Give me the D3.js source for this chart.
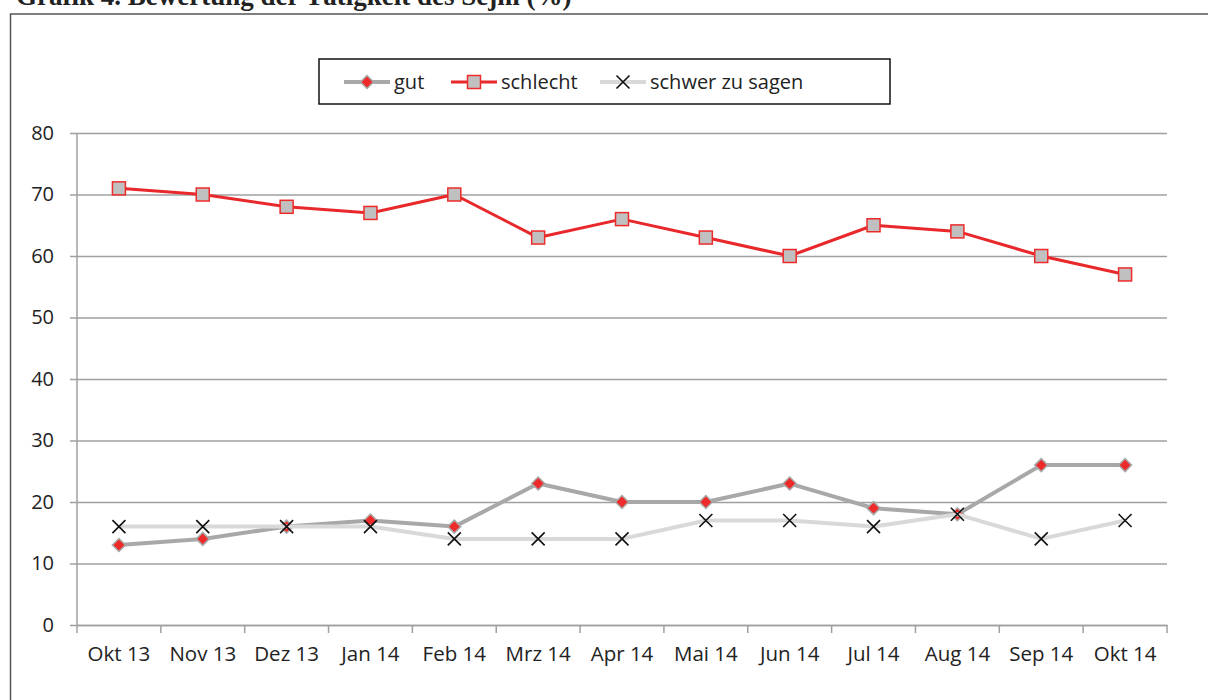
<!DOCTYPE html>
<html>
<head>
<meta charset="utf-8">
<script src="https://cdn.jsdelivr.net/npm/d3@7"></script>
<style>
  body { margin: 0; background: #fff; }
  svg { display: block; }
</style>
</head>
<body>
<svg id="chart"></svg>
<script>
// Daten
const months = ['Okt 13', 'Nov 13', 'Dez 13', 'Jan 14', 'Feb 14', 'Mrz 14', 'Apr 14',
  'Mai 14', 'Jun 14', 'Jul 14', 'Aug 14', 'Sep 14', 'Okt 14'];
const gut = [13, 14, 16, 17, 16, 23, 20, 20, 23, 19, 18, 26, 26];
const schlecht = [71, 70, 68, 67, 70, 63, 66, 63, 60, 65, 64, 60, 57];
const schwer = [16, 16, 16, 16, 14, 14, 14, 17, 17, 16, 18, 14, 17];
const yTicks = [0, 10, 20, 30, 40, 50, 60, 70, 80];

const width = 1208, height = 700;
const font = '"Open Sans", "Noto Sans", sans-serif';

const svg = d3.select('#chart')
  .attr('width', width)
  .attr('height', height);

// Titel (oben abgeschnitten, wie im Original)
svg.append('text')
  .attr('x', 16)
  .attr('y', 5)
  .attr('font-family', '"Liberation Serif", serif')
  .attr('font-weight', 'bold')
  .attr('font-size', 27)
  .attr('fill', '#222')
  .text('Grafik 4. Bewertung der Tätigkeit des Sejm (%)');

// Rahmen
svg.append('rect')
  .attr('x', 10.5)
  .attr('y', 14)
  .attr('width', 1220)
  .attr('height', 720)
  .attr('fill', 'none')
  .attr('stroke', '#555')
  .attr('stroke-width', 1.5);

const x = d3.scaleBand().domain(months).range([77, 1167]);
const y = d3.scaleLinear().domain([0, 80]).range([625, 133]);
const cx = (i) => x(months[i]) + x.bandwidth() / 2;

// Gitterlinien + Y-Achse
const yAxis = svg.append('g')
  .attr('transform', 'translate(77,0)')
  .call(d3.axisLeft(y).tickValues(yTicks).tickSize(-1090).tickPadding(23).tickSizeOuter(0));
yAxis.select('.domain').remove();
yAxis.selectAll('.tick line')
  .attr('stroke', '#a0a0a0')
  .attr('stroke-width', 1.5)
  .attr('x1', -7);
yAxis.selectAll('.tick text')
  .attr('font-family', font)
  .attr('font-size', 20)
  .attr('fill', '#222');

svg.append('line')
  .attr('x1', 77).attr('x2', 77)
  .attr('y1', y(80)).attr('y2', y(0))
  .attr('stroke', '#a0a0a0')
  .attr('stroke-width', 1.5);

// X-Achse
const xAxis = svg.append('g')
  .attr('transform', `translate(0,${y(0)})`)
  .call(d3.axisBottom(x).tickSize(0).tickPadding(21));
xAxis.select('.domain')
  .attr('stroke', '#a0a0a0')
  .attr('stroke-width', 1.5);
xAxis.selectAll('.tick text')
  .attr('font-family', font)
  .attr('font-size', 20.5)
  .attr('fill', '#222');
const bounds = months.map((m) => x(m)).concat([x(months[months.length - 1]) + x.bandwidth()]);
xAxis.selectAll('.bound')
  .data(bounds)
  .join('line')
  .attr('x1', (d) => d).attr('x2', (d) => d)
  .attr('y1', 0).attr('y2', 8)
  .attr('stroke', '#a0a0a0')
  .attr('stroke-width', 1.5);

const line = d3.line()
  .x((d, i) => cx(i))
  .y((d) => y(d));

const diamond = 'M0,-6.5L6.5,0L0,6.5L-6.5,0Z';
const cross = 'M-6.5,-6.5L6.5,6.5M-6.5,6.5L6.5,-6.5';

function drawSeries(values, lineColor, lineWidth, drawMarker) {
  const g = svg.append('g');
  g.append('path')
    .datum(values)
    .attr('fill', 'none')
    .attr('stroke', lineColor)
    .attr('stroke-width', lineWidth)
    .attr('stroke-linejoin', 'round')
    .attr('d', line);
  values.forEach((v, i) => {
    drawMarker(g.append('g').attr('transform', `translate(${cx(i)},${y(v)})`));
  });
}

function gutMarker(g) {
  g.append('path').attr('d', diamond)
    .attr('fill', '#ee2b2b').attr('stroke', '#a8a8a8').attr('stroke-width', 1.5);
}
function schlechtMarker(g) {
  g.append('rect').attr('x', -6.5).attr('y', -6.5).attr('width', 13).attr('height', 13)
    .attr('fill', '#c0c0c0').attr('stroke', '#ee2b2b').attr('stroke-width', 1.5);
}
function schwerMarker(g) {
  g.append('path').attr('d', cross)
    .attr('fill', 'none').attr('stroke', '#111').attr('stroke-width', 1.6);
}

drawSeries(schlecht, '#e8282b', 3, schlechtMarker);
drawSeries(gut, '#a8a8a8', 4, gutMarker);
drawSeries(schwer, '#d9d9d9', 4, schwerMarker);

// Legende
const legend = svg.append('g');
legend.append('rect')
  .attr('x', 319).attr('y', 59)
  .attr('width', 571).attr('height', 45)
  .attr('fill', '#fff')
  .attr('stroke', '#111')
  .attr('stroke-width', 1.5);

const legendItems = [
  { label: 'gut', x0: 344, color: '#a8a8a8', w: 4, marker: gutMarker },
  { label: 'schlecht', x0: 451, color: '#e8282b', w: 3, marker: schlechtMarker },
  { label: 'schwer zu sagen', x0: 600, color: '#d9d9d9', w: 4, marker: schwerMarker }
];
legendItems.forEach((it) => {
  legend.append('line')
    .attr('x1', it.x0).attr('x2', it.x0 + 46)
    .attr('y1', 82).attr('y2', 82)
    .attr('stroke', it.color)
    .attr('stroke-width', it.w);
  it.marker(legend.append('g').attr('transform', `translate(${it.x0 + 23},82)`));
  legend.append('text')
    .attr('x', it.x0 + 50)
    .attr('y', 82)
    .attr('dy', '0.35em')
    .attr('font-family', font)
    .attr('font-size', 20)
    .attr('fill', '#222')
    .text(it.label);
});
</script>
</body>
</html>
